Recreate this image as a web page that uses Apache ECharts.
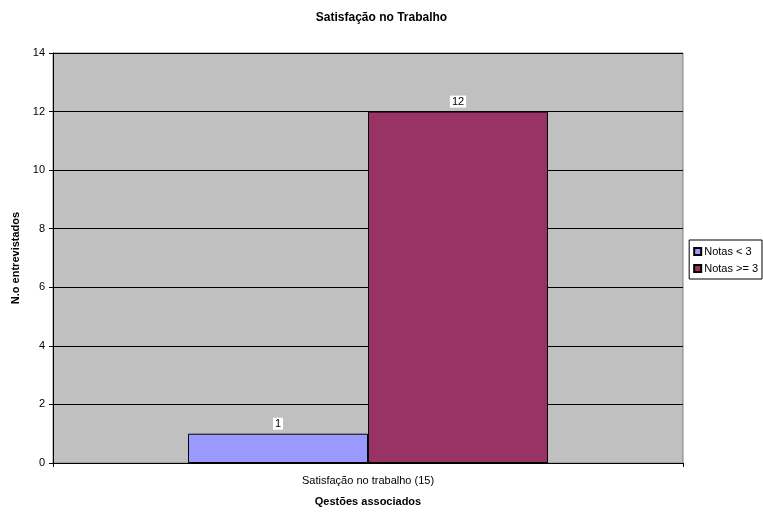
<!DOCTYPE html>
<html>
<head>
<meta charset="utf-8">
<script src="https://cdn.jsdelivr.net/npm/echarts@6/dist/echarts.min.js"></script>
<style>
  html, body { margin: 0; padding: 0; background: #fff; }
  #chart { width: 763px; height: 512px; }
</style>
</head>
<body>
<div id="chart"></div>
<script>
// dados do grafico
var categorias = ['Satisfação no trabalho (15)'];
var notasMenor3 = [1];
var notasMaiorIgual3 = [12];

var chart = echarts.init(document.getElementById('chart'));

var labelStyle = {
    show: true,
    position: 'top',
    distance: 4,
    color: '#000',
    fontFamily: 'Liberation Sans, Arial',
    fontSize: 11,
    backgroundColor: '#fff',
    padding: [1, 2, 0, 2]
};

chart.setOption({
    animation: false,
    title: {
        text: 'Satisfação no Trabalho',
        left: 'center',
        top: 7,
        textStyle: {
            fontFamily: 'Liberation Sans, Arial',
            fontSize: 12,
            fontWeight: 'bold',
            color: '#000'
        }
    },
    legend: {
        orient: 'vertical',
        right: 1,
        top: 240,
        itemWidth: 7,
        itemHeight: 7,
        itemGap: 6,
        padding: [6, 4, 5, 4],
        borderColor: '#000',
        borderWidth: 1,
        icon: 'rect',
        textStyle: {
            fontFamily: 'Liberation Sans, Arial',
            fontSize: 11,
            color: '#000',
            padding: [0, 0, 0, -2]
        },
        data: ['Notas < 3', 'Notas >= 3']
    },
    grid: {
        left: 53,
        right: 80,
        top: 53,
        bottom: 46,
        show: true,
        backgroundColor: '#C0C0C0',
        borderColor: '#808080',
        borderWidth: 1
    },
    xAxis: {
        type: 'category',
        data: categorias,
        name: 'Qestões associados',
        nameLocation: 'middle',
        nameGap: 33,
        nameTextStyle: {
            fontFamily: 'Liberation Sans, Arial',
            fontSize: 11,
            fontWeight: 'bold',
            color: '#000'
        },
        axisLine: { lineStyle: { color: '#000' } },
        axisTick: { show: true, length: 4, lineStyle: { color: '#000' } },
        axisLabel: {
            margin: 12,
            fontFamily: 'Liberation Sans, Arial',
            fontSize: 11,
            color: '#000'
        }
    },
    yAxis: {
        type: 'value',
        min: 0,
        max: 14,
        interval: 2,
        name: 'N.o entrevistados',
        nameLocation: 'middle',
        nameGap: 23,
        nameTextStyle: {
            fontFamily: 'Liberation Sans, Arial',
            fontSize: 11,
            fontWeight: 'bold',
            color: '#000'
        },
        axisLine: { show: true, lineStyle: { color: '#000' } },
        axisTick: { show: true, length: 4, lineStyle: { color: '#000' } },
        axisLabel: {
            margin: 8,
            fontFamily: 'Liberation Sans, Arial',
            fontSize: 11,
            color: '#000'
        },
        splitLine: { lineStyle: { color: '#000', width: 1 } }
    },
    series: [
        {
            name: 'Notas < 3',
            type: 'bar',
            data: notasMenor3,
            barWidth: 180,
            barGap: '0%',
            itemStyle: { color: '#9999FF', borderColor: '#000', borderWidth: 1 },
            label: labelStyle
        },
        {
            name: 'Notas >= 3',
            type: 'bar',
            data: notasMaiorIgual3,
            barWidth: 180,
            itemStyle: { color: '#993366', borderColor: '#000', borderWidth: 1 },
            label: labelStyle
        }
    ]
});
</script>
</body>
</html>
